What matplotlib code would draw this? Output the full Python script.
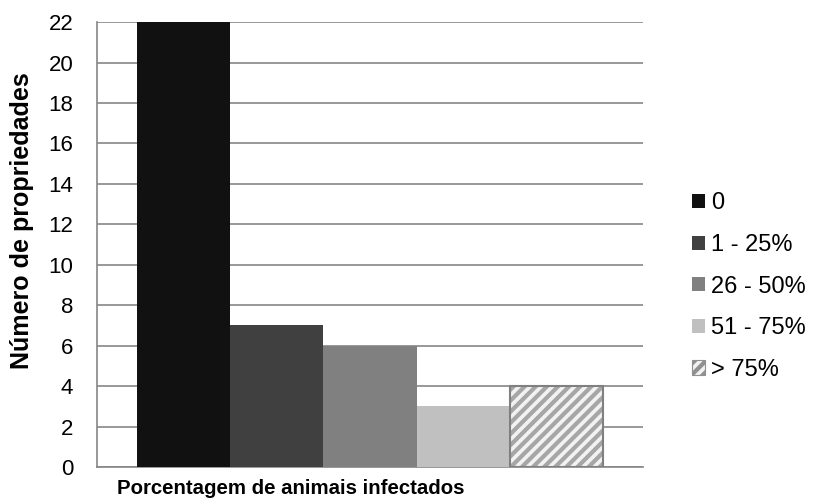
import matplotlib
matplotlib.use("Agg")
import matplotlib.pyplot as plt
from matplotlib.patches import Patch

# number of farms per infection range
categories = ["0", "1 - 25%", "26 - 50%", "51 - 75%", "> 75%"]
counts = [22, 7, 6, 3, 4]
colors = ["#111111", "#404040", "#808080", "#c0c0c0", "#ffffff"]

plt.rcParams["font.family"] = ["Liberation Sans", "DejaVu Sans"]
plt.rcParams["hatch.linewidth"] = 3.0

fig = plt.figure(figsize=(8.17, 5.01), dpi=100)
ax = fig.add_axes([0.1187, 0.0679, 0.6683, 0.888])

x = list(range(len(counts)))
for i in range(len(counts) - 1):
    ax.bar(x[i], counts[i], width=1.0, color=colors[i], linewidth=0, zorder=3)

# last bar is striped: hatch first, then a grey outline on top
ax.bar(x[-1], counts[-1], width=1.0, color="#f2f2f2", edgecolor="#a6a6a6",
       hatch="///", linewidth=0, zorder=3)
ax.bar(x[-1], counts[-1], width=1.0, fill=False, edgecolor="#808080",
       linewidth=1.5, zorder=4)

ax.set_xlim(-0.93, 4.93)
ax.set_ylim(0, 22)
ax.set_yticks(range(0, 23, 2))
ax.set_xticks([])
ax.yaxis.grid(True, color="#868686", linewidth=1.2, zorder=0)
ax.tick_params(axis="y", length=0, labelsize=16, pad=17)

for s in ["top", "right"]:
    ax.spines[s].set_visible(False)
for s in ["left", "bottom"]:
    ax.spines[s].set_color("#868686")
    ax.spines[s].set_linewidth(1.2)

ax.set_ylabel("Número de propriedades", fontsize=18, fontweight="bold")
ax.set_xlabel("Porcentagem de animais infectados", fontsize=14.7, fontweight="bold")
ax.yaxis.set_label_coords(-0.115, 0.553)
ax.xaxis.set_label_coords(0.355, -0.028)
ax.xaxis.label.set_va("top")

handles = []
for i, c in enumerate(colors):
    if i == len(colors) - 1:
        handles.append(Patch(facecolor="#f2f2f2", edgecolor="#909090",
                             hatch="///", linewidth=0.8))
    else:
        handles.append(Patch(facecolor=c, edgecolor="none"))

fig.legend(handles, categories, loc="center left", bbox_to_anchor=(0.833, 0.428),
           frameon=False, fontsize=17, handlelength=0.55, handleheight=0.55,
           handletextpad=0.25, labelspacing=0.83, borderpad=0)

fig.savefig("out.png", dpi=100)
